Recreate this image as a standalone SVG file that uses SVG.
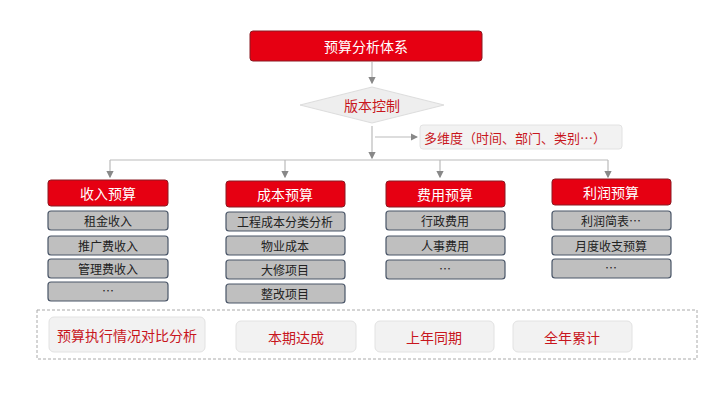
<svg xmlns="http://www.w3.org/2000/svg" width="720" height="405" viewBox="0 0 720 405">
<style>
text{font-family:"Noto Sans CJK SC","Liberation Sans",sans-serif;text-anchor:middle;dominant-baseline:central}
.red{fill:#e60012;stroke:#8a1a22;stroke-width:1}
.rt{fill:#fff;font-size:14px}
.sub{fill:#bfbfbf;stroke:#4a5668;stroke-width:1.2}
.st{fill:#222;font-size:12px}
.lt{fill:#f2f2f2;stroke:#e2e2e2}
.ltt{fill:#c8161d;font-size:14px}
.ln{stroke:#bbb;stroke-width:1.2;fill:none}
</style>
<defs><marker id="a" markerWidth="6" markerHeight="6" refX="5" refY="3" orient="auto"><path d="M0,0L6,3L0,6z" fill="#888"/></marker></defs>
<rect width="720" height="405" fill="#fff"/>
<g id="connectors">
<path class="ln" d="M372,62V83" marker-end="url(#a)"/>
<path class="ln" d="M372,126V158" marker-end="url(#a)"/>
<path class="ln" d="M375,137H417" marker-end="url(#a)"/>
<path class="ln" d="M110,160H608"/>
<path class="ln" d="M110,160V177" marker-end="url(#a)"/>
<path class="ln" d="M285,160V177" marker-end="url(#a)"/>
<path class="ln" d="M440,160V177" marker-end="url(#a)"/>
<path class="ln" d="M608,160V177" marker-end="url(#a)"/>
</g>
<g id="root"><rect class="red" x="250" y="31" width="232" height="30" rx="3" stroke="none"/><text class="rt" x="366" y="46" font-size="15">预算分析体系</text></g>
<g id="version"><polygon points="372,87 444,105 372,123 300,105" fill="#eeeeee" stroke="#dddddd"/><text x="372" y="105" font-size="14" fill="#c8161d">版本控制</text></g>
<g id="dims"><rect class="lt" x="420" y="125" width="202" height="24" rx="3"/><text x="515" y="137" font-size="13" fill="#c8161d">多维度（时间、部门、类别…）</text></g>
<g id="c1"><rect class="red" x="48" y="180" width="120" height="26" rx="3"/><text class="rt" x="108" y="193">收入预算</text></g>
<g id="c2"><rect class="red" x="226" y="181" width="119" height="26" rx="3"/><text class="rt" x="285" y="194">成本预算</text></g>
<g id="c3"><rect class="red" x="386" y="181" width="119" height="26" rx="3"/><text class="rt" x="445" y="194">费用预算</text></g>
<g id="c4"><rect class="red" x="552" y="179" width="119" height="26" rx="3"/><text class="rt" x="611" y="192">利润预算</text></g>
<g id="s1a"><rect class="sub" x="48" y="211" width="120" height="19" rx="3"/><text class="st" x="108" y="220.5">租金收入</text></g>
<g id="s1b"><rect class="sub" x="48" y="236" width="120" height="19" rx="3"/><text class="st" x="108" y="245.5">推广费收入</text></g>
<g id="s1c"><rect class="sub" x="48" y="259" width="120" height="19" rx="3"/><text class="st" x="108" y="268.5">管理费收入</text></g>
<g id="s1d"><rect class="sub" x="48" y="282" width="120" height="19" rx="3"/><text class="st" x="108" y="290">…</text></g>
<g id="s2a"><rect class="sub" x="226" y="212" width="119" height="19" rx="3"/><text class="st" x="285" y="221.5">工程成本分类分析</text></g>
<g id="s2b"><rect class="sub" x="226" y="236" width="119" height="19" rx="3"/><text class="st" x="285" y="245.5">物业成本</text></g>
<g id="s2c"><rect class="sub" x="226" y="260" width="119" height="19" rx="3"/><text class="st" x="285" y="269.5">大修项目</text></g>
<g id="s2d"><rect class="sub" x="226" y="284" width="119" height="19" rx="3"/><text class="st" x="285" y="293.5">整改项目</text></g>
<g id="s3a"><rect class="sub" x="386" y="211" width="119" height="19" rx="3"/><text class="st" x="445" y="220.5">行政费用</text></g>
<g id="s3b"><rect class="sub" x="386" y="236" width="119" height="19" rx="3"/><text class="st" x="445" y="245.5">人事费用</text></g>
<g id="s3c"><rect class="sub" x="386" y="260" width="119" height="19" rx="3"/><text class="st" x="445" y="268">…</text></g>
<g id="s4a"><rect class="sub" x="552" y="211" width="119" height="19" rx="3"/><text class="st" x="611" y="220.5">利润简表…</text></g>
<g id="s4b"><rect class="sub" x="552" y="236" width="119" height="19" rx="3"/><text class="st" x="611" y="245.5">月度收支预算</text></g>
<g id="s4c"><rect class="sub" x="552" y="259" width="119" height="19" rx="3"/><text class="st" x="611" y="267">…</text></g>
<g id="analysis"><rect x="37" y="310" width="660" height="49" fill="none" stroke="#aaa" stroke-dasharray="3,2"/></g>
<g id="b1"><rect class="lt" x="49" y="317" width="156" height="35" rx="5"/><text class="ltt" x="127" y="334.5">预算执行情况对比分析</text></g>
<g id="b2"><rect class="lt" x="236" y="321" width="120" height="31" rx="5"/><text class="ltt" x="296" y="336.5">本期达成</text></g>
<g id="b3"><rect class="lt" x="375" y="321" width="119" height="31" rx="5"/><text class="ltt" x="434" y="336.5">上年同期</text></g>
<g id="b4"><rect class="lt" x="513" y="321" width="119" height="31" rx="5"/><text class="ltt" x="572" y="336.5">全年累计</text></g>
</svg>
